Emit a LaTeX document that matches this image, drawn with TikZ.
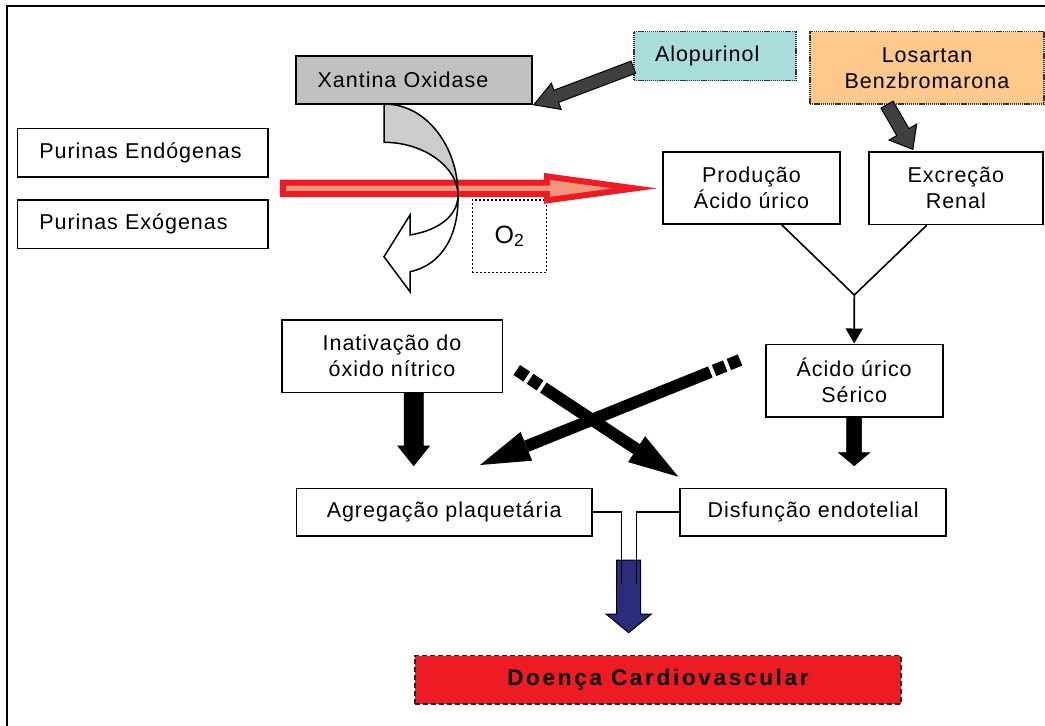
\documentclass[tikz,border=0pt]{standalone}
\usepackage{fontspec}
\setmainfont{Liberation Sans}[LetterSpace=4.5]
\usetikzlibrary{arrows.meta,calc}
\definecolor{xogray}{HTML}{C0C0C0}
\definecolor{curvgray}{HTML}{CCCCCC}
\definecolor{aloteal}{HTML}{A9DDDC}
\definecolor{losorange}{HTML}{FFC98C}
\definecolor{darkarr}{HTML}{404040}
\definecolor{redarr}{HTML}{ED1C24}
\definecolor{pinkarr}{HTML}{F4967E}
\definecolor{navyarr}{HTML}{2B2C7C}
\definecolor{dcred}{HTML}{ED1C24}
\newcommand\mainfs{\fontsize{21.5}{26}\selectfont}
\newcommand\blockarr[6]{%
  \coordinate (ba-c) at ($(#3)!#6!(#2)$);
  \draw[#1] ($(#2)!#4!90:(#3)$) -- ($(ba-c)!#4!90:(#3)$) -- ($(ba-c)!#5!90:(#3)$) -- (#3)
    -- ($(ba-c)!#5!-90:(#3)$) -- ($(ba-c)!#4!-90:(#3)$) -- ($(#2)!#4!-90:(#3)$) -- cycle;}
\tikzset{
  box/.style={draw=black, line width=1.6pt, fill=white, inner sep=0pt, align=center, font=\mainfs, text=black},
  dbox/.style={box, draw=black!80, line width=1.3pt, dash pattern=on 1.3pt off 0.8pt},
  obox/.style={box, line width=1.4pt, dash pattern=on 2pt off 2pt},
  dcvbox/.style={box, fill=dcred, draw=black!85, line width=1.5pt, dash pattern=on 5pt off 3pt},
  thickarr/.style={line width=12pt, black, dash pattern=on 12pt off 4pt on 12pt off 4pt on 2000pt,
    -{Triangle[length=50pt,width=31pt,line width=0pt]}},
  thinline/.style={line width=1.6pt, black},
}
\begin{document}
\begin{tikzpicture}[x=1pt, y=-1pt, line join=miter]
\useasboundingbox (0,0) rectangle (1045,726);
% frame
\draw[line width=2pt] (7,726) -- (7,6) -- (1045,6);

% nodes
\node[box, minimum width=250.4pt, minimum height=48.3pt, text width=206.4pt, inner xsep=22pt, align=left] (pend) at (142.5,152.6) {Purinas Endógenas};
\node[box, minimum width=250.4pt, minimum height=48.3pt, text width=206.4pt, inner xsep=22pt, align=left] (pexo) at (142.5,224.15) {Purinas Exógenas};
\node[box, fill=xogray, minimum width=235.7pt, minimum height=48pt, text width=192.3pt, inner xsep=21.7pt, align=left] (xo) at (413.85,80) {Xantina Oxidase};
\node[dbox, fill=aloteal, minimum width=162pt, minimum height=49pt, text width=120pt, inner xsep=21pt, align=left] (alo) at (715,56.2) {Alopurinol};
\node[dbox, fill=losorange, minimum width=234pt, minimum height=72.3pt] (los) at (927,67.85) {Losartan\\Benzbromarona};
\node[box, minimum width=177pt, minimum height=72.3pt] (prod) at (751.5,187.85) {Produção\\Ácido úrico};
\node[box, minimum width=174.3pt, minimum height=72.3pt] (exc) at (955.85,188.35) {Excreção\\Renal};
\node[obox, minimum width=74.4pt, minimum height=72.3pt, font=\fontsize{25}{28}\selectfont] (o2) at (509.5,236.15) {O\textsubscript{2}};
\node[box, minimum width=220.6pt, minimum height=72.3pt] (inat) at (392,356.15) {Inativação do\\óxido nítrico};
\node[box, minimum width=177pt, minimum height=72.4pt] (acid) at (854.2,380.5) {Ácido úrico\\Sérico};
\node[box, minimum width=295.1pt, minimum height=47.4pt] (agr) at (444.15,512) {Agregação plaquetária};
\node[box, minimum width=265.8pt, minimum height=47.4pt] (dis) at (813.1,512) {Disfunção endotelial};
\node[dcvbox, minimum width=486pt, minimum height=48.3pt, font=\fontsize{22.5}{26}\selectfont\bfseries\addfontfeature{LetterSpace=12}] (dcv) at (658,679.85) {Doença Cardiovascular};

% red arrow
\coordinate (rs) at ($(pend.east)!0.5!(pexo.east)+(14.3,0)$);
\coordinate (rt) at ($(prod.west)+(-29,0)$);
\draw[fill=pinkarr, draw=redarr, line width=6pt, miter limit=20, shift={(rs)}]
  (0,-5.8) -- (264,-5.8) -- (264,-12) -- (352,0) -- (264,12) -- (264,5.8) -- (0,5.8) -- cycle;

% curved arrow from Xantina Oxidase
\draw[fill=curvgray, line width=1.5pt] (384,104.2) -- (386.7,104.2) .. controls (425,104.7) and (458,145) .. (458,195)
  .. controls (458,168) and (425,142.3) .. (384,142.3) -- cycle;
\draw[fill=white, line width=1.5pt] (458,195) .. controls (458,215) and (440,230) .. (410,235)
  -- (410,215) -- (384,256.7) -- (410,291.7) -- (410,271.7)
  .. controls (442,265) and (459,235) .. (458,195) -- cycle;

% dark gray block arrows
\coordinate (a1s) at ($(alo.west)+(0,11)$);
\coordinate (a1t) at ($(xo.south east)+(1.3,0)$);
\blockarr{fill=darkarr, draw=black, line width=1pt}{a1s}{a1t}{6.5pt}{14pt}{24pt}
\coordinate (a2s) at ($(los.south)+(-40,0)$);
\coordinate (a2t) at ($(exc.north)+(-43,-2)$);
\blockarr{fill=darkarr, draw=black, line width=1pt}{a2s}{a2t}{7pt}{16pt}{20pt}

% V connector
\coordinate (vj) at (854.3,295);
\draw[thinline] ($(prod.south)+(30.2,0)$) -- (vj) -- ($(exc.south)+(-29.15,0)$);
\draw[thinline, -{Triangle[width=17pt,length=15pt]}] (vj) -- (acid.north);

% black block arrows
\coordinate (i1s) at ($(inat.south)+(21.7,0)$);
\coordinate (i1t) at ($(inat.south)+(21.7,72.7)$);
\blockarr{fill=black, draw=black, line width=0.5pt}{i1s}{i1t}{9.7pt}{16pt}{20pt}
\coordinate (s1s) at (acid.south);
\coordinate (s1t) at ($(acid.south)+(0,48.3)$);
\blockarr{fill=black, draw=black, line width=0.5pt}{s1s}{s1t}{7.5pt}{15.8pt}{13.3pt}

% crossing arrows
\coordinate (c1s) at (516.7,370);
\coordinate (c1t) at (678.3,476.7);
\coordinate (c2s) at (740,360);
\coordinate (c2t) at (480,465);
\draw[thickarr] (c1s) -- (c1t);
\draw[thickarr] (c2s) -- (c2t);

% blue arrow and connectors
\coordinate (bs) at (628.7,560);
\coordinate (bt) at (628.7,632.7);
\blockarr{fill=navyarr, draw=black, line width=1pt}{bs}{bt}{12pt}{22.7pt}{18.7pt}
\coordinate (cl) at (621.3,584);
\coordinate (cr) at (636.6,584);
\draw[thinline, line width=1.4pt] (agr.east) -| (cl);
\draw[thinline, line width=1.4pt] (dis.west) -| (cr);
\end{tikzpicture}
\end{document}
